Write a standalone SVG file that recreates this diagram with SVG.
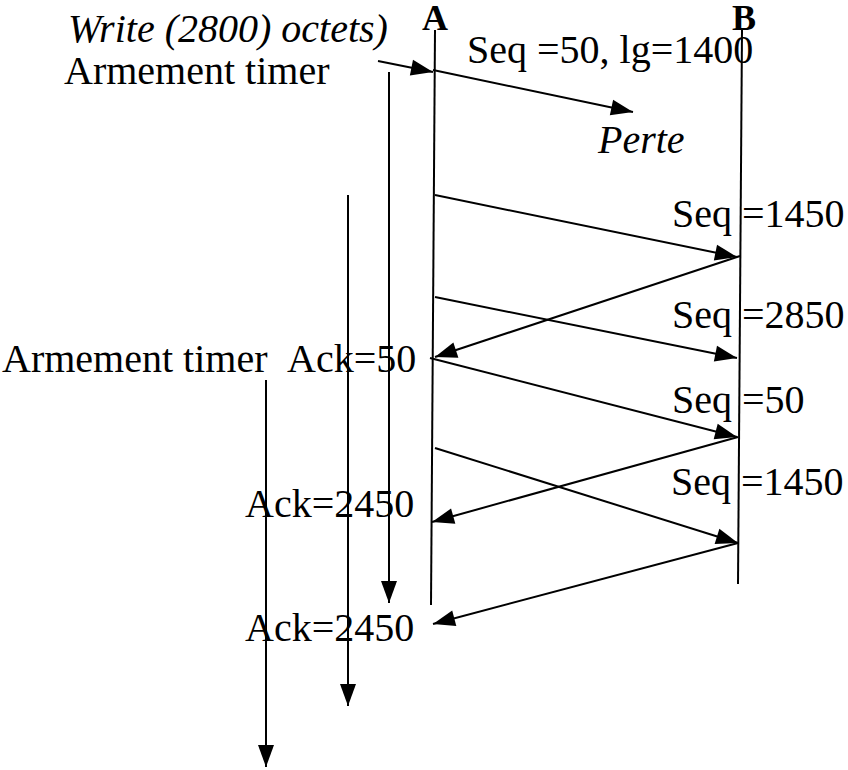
<svg xmlns="http://www.w3.org/2000/svg" width="848" height="770" viewBox="0 0 848 770">
<style>
text{font-family:"Liberation Serif","Times New Roman",serif;font-size:40px;fill:#000}
.it{font-style:italic}
.b{font-weight:bold;font-size:36px}
.ln{stroke:#000;stroke-width:2;fill:none}
.ar{stroke:#000;stroke-width:2;fill:none;marker-end:url(#ah)}
</style>
<defs>
<marker id="ah" markerUnits="userSpaceOnUse" markerWidth="22" markerHeight="16" refX="22" refY="8" orient="auto" overflow="visible">
<path d="M0,0 L22,8 L0,16 z" fill="#000"/>
</marker>
</defs>
<g id="lifelines">
<g id="nodeA"><line class="ln" x1="435" y1="30" x2="431" y2="605"/><text class="b" x="422" y="30">A</text></g>
<g id="nodeB"><line class="ln" x1="742" y1="30" x2="738" y2="584"/><text class="b" x="732" y="30">B</text></g>
</g>
<g id="labels">
<text class="it" x="68" y="42">Write (2800) octets)</text>
<text x="64" y="84">Armement timer</text>
<text x="467" y="63">Seq =50, lg=1400</text>
<text class="it" x="598" y="153">Perte</text>
<text x="672" y="227">Seq =1450</text>
<text x="672" y="328">Seq =2850</text>
<text x="2" y="372">Armement timer</text>
<text x="287" y="372">Ack=50</text>
<text x="672" y="413">Seq =50</text>
<text x="671" y="495">Seq =1450</text>
<text x="245" y="517">Ack=2450</text>
<text x="245" y="641">Ack=2450</text>
</g>
<g id="connectors">
<line class="ar" x1="378" y1="61" x2="433" y2="72"/>
<line class="ar" x1="433" y1="70" x2="633" y2="112"/>
<line class="ar" x1="435" y1="195" x2="737" y2="257"/>
<line class="ar" x1="740" y1="256" x2="435" y2="357"/>
<line class="ar" x1="435" y1="297" x2="737" y2="358"/>
<line class="ar" x1="430" y1="358" x2="737" y2="437"/>
<line class="ar" x1="738" y1="437" x2="432" y2="522"/>
<line class="ar" x1="435" y1="448" x2="738" y2="543"/>
<line class="ar" x1="738" y1="543" x2="433" y2="624"/>
<line class="ar" x1="389" y1="72" x2="389" y2="603"/>
<line class="ar" x1="348" y1="195" x2="348" y2="706"/>
<line class="ar" x1="266" y1="380" x2="266" y2="767"/>
</g>
</svg>
